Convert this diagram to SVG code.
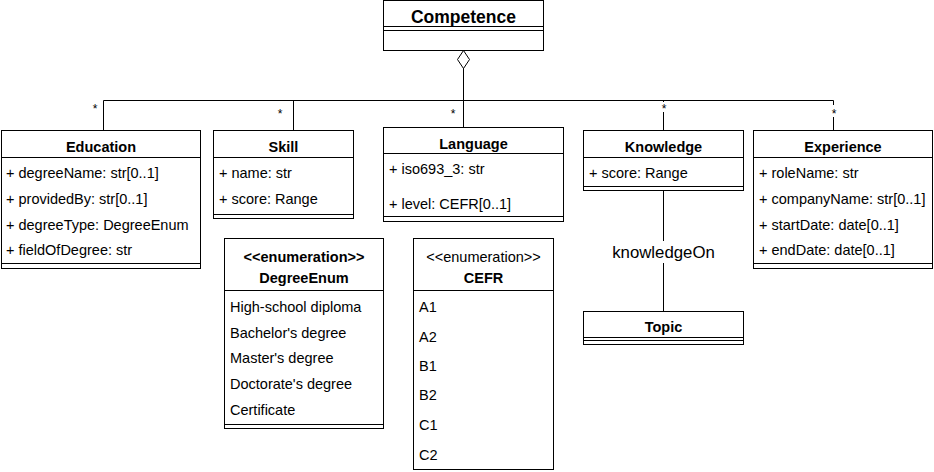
<svg xmlns="http://www.w3.org/2000/svg" width="934" height="472" viewBox="0 0 934 472">
<style>
text{font-family:"Liberation Sans",Arial,sans-serif;fill:#000}
.t{font-size:14.5px;font-weight:bold;text-anchor:middle}
.a{font-size:14.5px}
.s{font-size:14.5px;text-anchor:middle}
.m{font-size:12px;text-anchor:middle}
.box{fill:#fff;stroke:#000;stroke-width:1}
.ln{fill:none;stroke:#000;stroke-width:1}
</style>
<rect width="934" height="472" fill="#fff"/>
<g id="connectors">
<path class="ln" d="M463.5 68V100.5M103.5 100.5H833.5M103.5 100.5V130M293.5 100.5V130M463.5 100.5V127M663.5 100.5V130M833.5 100.5V130M663.5 190V311"/>
<path d="M463.5 50.5L469.5 59.5L463.5 68.5L457.5 59.5Z" fill="#fff" stroke="#000"/>
<text class="m" x="95" y="113">*</text>
<text class="m" x="280" y="118">*</text>
<text class="m" x="453" y="118">*</text>
<rect x="658" y="102" width="11" height="10" fill="#fff"/>
<text class="m" x="664" y="113">*</text>
<rect x="828" y="105" width="11" height="12" fill="#fff"/>
<text class="m" x="834" y="118">*</text>
<rect x="610" y="241" width="107" height="22" fill="#fff"/>
<text x="663.5" y="258" style="font-size:16.8px;text-anchor:middle">knowledgeOn</text>
</g>
<g id="Competence">
<rect class="box" x="383.5" y="0.5" width="160" height="50"/>
<path class="ln" d="M383.5 26.5H543.5M383.5 30.5H543.5"/>
<text class="t" x="463.5" y="23" style="font-size:17.5px">Competence</text>
</g>
<g id="Education">
<rect class="box" x="1.5" y="130.5" width="199" height="138"/>
<path class="ln" d="M1.5 157.5H200.5M1.5 263.5H200.5"/>
<text class="t" x="101" y="152">Education</text>
<text class="a" x="6" y="178">+ degreeName: str[0..1]</text>
<text class="a" x="6" y="204">+ providedBy: str[0..1]</text>
<text class="a" x="6" y="230">+ degreeType: DegreeEnum</text>
<text class="a" x="6" y="255">+ fieldOfDegree: str</text>
</g>
<g id="Skill">
<rect class="box" x="213.5" y="130.5" width="140" height="88"/>
<path class="ln" d="M213.5 157.5H353.5M213.5 214.5H353.5"/>
<text class="t" x="283.5" y="152">Skill</text>
<text class="a" x="219" y="178">+ name: str</text>
<text class="a" x="219" y="204">+ score: Range</text>
</g>
<g id="Language">
<rect class="box" x="383.5" y="127.5" width="180" height="94"/>
<path class="ln" d="M383.5 153.5H563.5M383.5 216.5H563.5"/>
<text class="t" x="473.5" y="149">Language</text>
<text class="a" x="389" y="174">+ iso693_3: str</text>
<text class="a" x="389" y="209">+ level: CEFR[0..1]</text>
</g>
<g id="Knowledge">
<rect class="box" x="583.5" y="130.5" width="160" height="60"/>
<path class="ln" d="M583.5 157.5H743.5M583.5 186.5H743.5"/>
<text class="t" x="663.5" y="152">Knowledge</text>
<text class="a" x="589" y="178">+ score: Range</text>
</g>
<g id="Experience">
<rect class="box" x="753.5" y="130.5" width="179" height="138"/>
<path class="ln" d="M753.5 157.5H932.5M753.5 263.5H932.5"/>
<text class="t" x="843" y="152">Experience</text>
<text class="a" x="759" y="178">+ roleName: str</text>
<text class="a" x="759" y="204">+ companyName: str[0..1]</text>
<text class="a" x="759" y="230">+ startDate: date[0..1]</text>
<text class="a" x="759" y="255">+ endDate: date[0..1]</text>
</g>
<g id="DegreeEnum">
<rect class="box" x="224.5" y="238.5" width="159" height="190"/>
<path class="ln" d="M224.5 290.5H383.5M224.5 424.5H383.5"/>
<text class="t" x="304" y="262">&lt;&lt;enumeration&gt;&gt;</text>
<text class="t" x="304" y="283">DegreeEnum</text>
<text class="a" x="230" y="312">High-school diploma</text>
<text class="a" x="230" y="338">Bachelor's degree</text>
<text class="a" x="230" y="363">Master's degree</text>
<text class="a" x="230" y="389">Doctorate's degree</text>
<text class="a" x="230" y="415">Certificate</text>
</g>
<g id="CEFR">
<rect class="box" x="413.5" y="238.5" width="140" height="231"/>
<path class="ln" d="M413.5 290.5H553.5"/>
<text class="s" x="483.5" y="262">&lt;&lt;enumeration&gt;&gt;</text>
<text class="t" x="483.5" y="283">CEFR</text>
<text class="a" x="419" y="312">A1</text>
<text class="a" x="419" y="342">A2</text>
<text class="a" x="419" y="371">B1</text>
<text class="a" x="419" y="400">B2</text>
<text class="a" x="419" y="430">C1</text>
<text class="a" x="419" y="460">C2</text>
</g>
<g id="Topic">
<rect class="box" x="583.5" y="311.5" width="160" height="33"/>
<path class="ln" d="M583.5 337.5H743.5M583.5 340.5H743.5"/>
<text class="t" x="663.5" y="332">Topic</text>
</g>
</svg>
